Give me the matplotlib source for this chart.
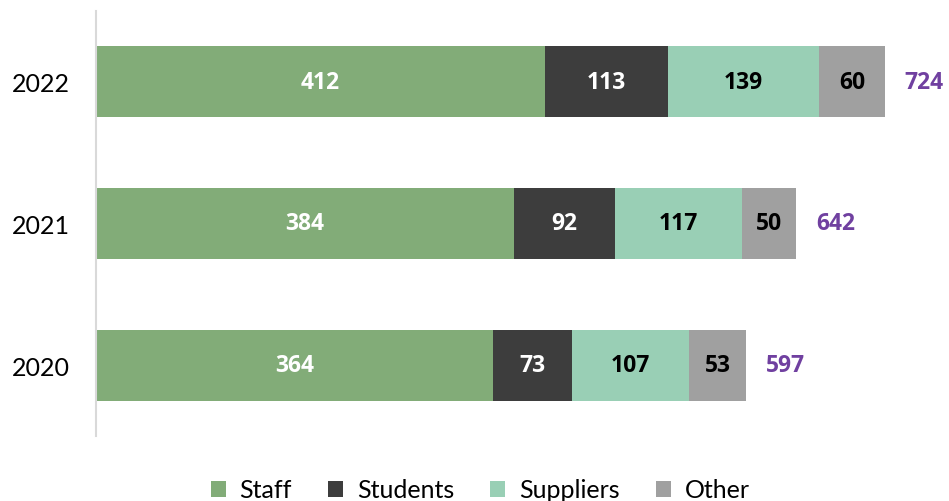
import matplotlib
matplotlib.use("Agg")
import matplotlib.pyplot as plt
import numpy as np

years = ["2020", "2021", "2022"]
staff = [364, 384, 412]
students = [73, 92, 113]
suppliers = [107, 117, 139]
other = [53, 50, 60]
totals = [597, 642, 724]
series_names = ["Staff", "Students", "Suppliers", "Other"]
colors = ["#82AC78", "#3D3D3D", "#99CFB5", "#A0A0A0"]
label_colors = ["white", "white", "black", "black"]
total_color = "#7040A0"

plt.rcParams['font.family'] = ['Lato', 'DejaVu Sans']
bold_family = ['Open Sans', 'DejaVu Sans']

fig = plt.figure(figsize=(9.49, 5.02), dpi=100)
ax = fig.add_axes([96/949, 1-437/502, 1-96/949, 425/502])

y = np.arange(len(years))
series = [staff, students, suppliers, other]
left = np.zeros(len(years))
for vals, name, c, lc in zip(series, series_names, colors, label_colors):
    bars = ax.barh(y, vals, left=left, height=0.5, color=c, label=name, linewidth=0)
    ax.bar_label(bars, labels=[str(v) for v in vals], label_type='center',
                 color=lc, fontsize=16.5, fontweight='bold', family=bold_family)
    left = left + np.array(vals)

for yi, end, tot in zip(y, left, totals):
    ax.annotate(str(tot), xy=(end, yi), xytext=(14, 0), textcoords='offset points',
                ha='left', va='center', color=total_color, fontsize=16.5,
                fontweight='bold', family=bold_family)

ax.set_xlim(0, 783)
ax.set_ylim(-0.5, 2.5)
ax.set_yticks(y)
ax.set_yticklabels(years, fontsize=18)
ax.tick_params(axis='y', length=0, pad=19)
ax.set_xticks([])
for s in ['top', 'right', 'bottom']:
    ax.spines[s].set_visible(False)
ax.spines['left'].set_color('#D9D9D9')
ax.spines['left'].set_linewidth(1.5)

handles, labels = ax.get_legend_handles_labels()
fig.legend(handles, labels, loc='center', bbox_to_anchor=(0.506, 0.022), ncol=4,
           frameon=False, fontsize=18, handlelength=0.6, handleheight=0.6,
           handletextpad=0.55, columnspacing=1.45)

fig.savefig("out.png", dpi=100)
